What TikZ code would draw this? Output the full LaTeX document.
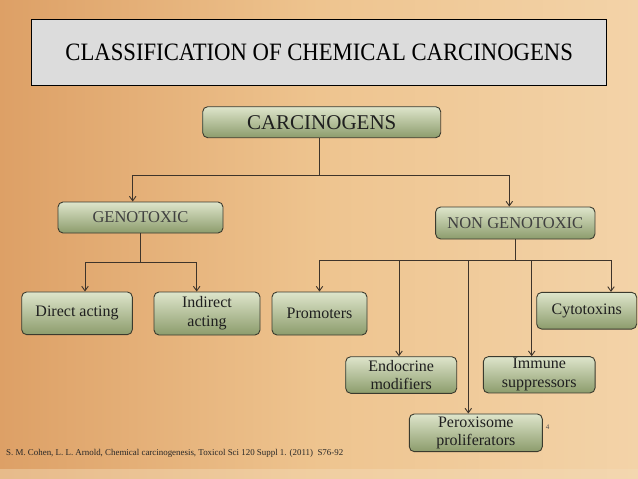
\documentclass[tikz,border=0pt]{standalone}
\usepackage{fontspec}
\usepackage{graphicx}
\setmainfont{Liberation Serif}
\usetikzlibrary{arrows.meta}
\definecolor{bgL}{HTML}{DDA066}
\definecolor{bgM}{HTML}{EEC48F}
\definecolor{bgR}{HTML}{F3D3A8}
\definecolor{bgBand}{HTML}{F4DCB8}
\definecolor{boxT}{HTML}{DEE5CB}
\definecolor{boxB}{HTML}{8C9C6C}
\definecolor{boxD}{HTML}{3A3A2E}
\definecolor{lineC}{HTML}{3E342A}
\definecolor{titleF}{HTML}{DCDCDC}
\tikzset{
 gbox/.style={draw=boxD, line width=0.9pt, rounded corners=5pt, top color=boxT, bottom color=boxB, align=center, inner sep=0pt, text=black!88, font=\rmfamily\fontsize{16}{18.7}\selectfont},
 conn/.style={draw=lineC, line width=0.9pt},
 arr/.style={conn, -{Straight Barb[length=4.5pt,width=6.5pt]}},
}
\begin{document}
\begin{tikzpicture}[x=1pt,y=-1pt]
\useasboundingbox (0,0) rectangle (638,479);
\shade[left color=bgL, right color=bgR, middle color=bgM] (0,0) rectangle (638,479);
\fill[bgBand, opacity=0.45] (0,469) rectangle (638,479);

\node[draw=black, line width=0.8pt, fill=titleF, minimum width=575pt, minimum height=65.7pt, inner sep=0pt] (title) at (319.2,52.2)
  {\scalebox{1}[1.1]{\rmfamily\fontsize{22.7}{27}\selectfont CLASSIFICATION OF CHEMICAL CARCINOGENS}};

\node[gbox, minimum width=238pt, minimum height=31pt, font=\rmfamily\fontsize{21}{24}\selectfont] (carc) at (321.7,122.2) {CARCINOGENS};
\node[gbox, minimum width=165pt, minimum height=31pt, font=\rmfamily\fontsize{16.5}{19}\selectfont, text=black!75] (geno) at (140.5,217.5) {GENOTOXIC};
\node[gbox, minimum width=159.3pt, minimum height=32pt, font=\rmfamily\fontsize{16.5}{19}\selectfont, text=black!75] (nong) at (515.3,223) {NON GENOTOXIC};

\node[gbox, minimum width=110.6pt, minimum height=42.7pt] (direct) at (77,313.3) {Direct acting};
\node[gbox, minimum width=106pt, minimum height=43pt] (indirect) at (207,313.5) {Indirect\\acting};
\node[gbox, minimum width=95pt, minimum height=43pt] (prom) at (319.5,313.5) {Promoters};
\node[gbox, minimum width=100pt, minimum height=36.7pt] (cyto) at (586.7,310.7) {Cytotoxins};
\node[gbox, minimum width=111pt, minimum height=36.6pt] (endo) at (401.2,375) {Endocrine\\modifiers};
\node[gbox, minimum width=111.7pt, minimum height=36.3pt] (immune) at (539.2,374.8) {Immune\\suppressors};
\node[gbox, minimum width=133pt, minimum height=37.7pt] (perox) at (475.8,432.8) {Peroxisome\\proliferators};

\node[font=\rmfamily\fontsize{7}{8}\selectfont, text=black!70, inner sep=0pt] (pg) at (547.7,427.3) {4};
\node[anchor=west, inner sep=0pt, text=black!85] (cite) at (6,453.3)
  {\resizebox{337pt}{!}{\rmfamily\fontsize{9}{11}\selectfont S. M. Cohen, L. L. Arnold, Chemical carcinogenesis, Toxicol Sci 120 Suppl 1. (2011)\ \ S76-92}};

% connectors
\coordinate (j1) at (319.3,175);
\draw[conn] (carc.south -| j1) -- (j1);
\draw[arr] (j1) -| ([xshift=-7.8pt]geno.north);
\draw[arr] (j1) -| ([xshift=-6pt]nong.north);

\coordinate (j2) at (140.7,262.7);
\draw[conn] (geno.south -| j2) -- (j2);
\draw[arr] (j2) -| ([xshift=8pt]direct.north);
\draw[arr] (j2) -| ([xshift=-10.3pt]indirect.north);

\coordinate (j3) at (515.7,260.3);
\draw[conn] (nong.south -| j3) -- (j3);
\draw[arr] (j3) -| (prom.north);
\draw[arr] (j3) -| ([xshift=-2.2pt]endo.north);
\draw[arr] (j3) -| ([xshift=-7.5pt]perox.north);
\draw[arr] (j3) -| ([xshift=-7.5pt]immune.north);
\draw[arr] (j3) -| ([xshift=24.3pt]cyto.north);
\end{tikzpicture}
\end{document}
